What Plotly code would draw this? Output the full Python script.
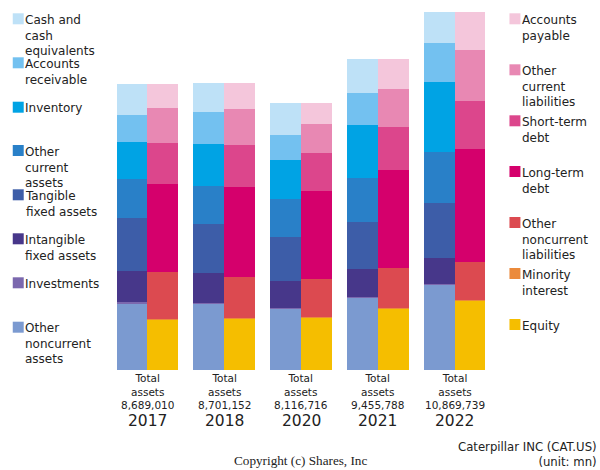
import numpy as np
import plotly.graph_objects as go

years = ["2017", "2018", "2020", "2021", "2022"]
total_labels = ["8,689,010", "8,701,152", "8,116,716", "9,455,788", "10,869,739"]

# Assets (bottom -> top)
other_noncurrent_assets = [2026400, 2004400, 1867500, 2202200, 2587600]
investments = [30400, 30400, 15200, 15200, 15200]
intangible_fixed_assets = [941800, 902000, 810800, 841400, 798800]
tangible_fixed_assets = [1610200, 1488100, 1336100, 1445900, 1661300]
other_current_assets = [1184900, 1154100, 1172100, 1318300, 1548900]
inventory = [1133200, 1284700, 1175200, 1609900, 2144200]
accounts_receivable = [820300, 962700, 759200, 972000, 1184500]
cash = [941800, 874700, 980800, 1051000, 929400]

# Liabilities & equity (bottom -> top)
equity = [1543400, 1554900, 1594200, 1877200, 2101700]
minority_interest = [15200, 15200, 15200, 15200, 15200]
other_noncurrent_liabilities = [1418800, 1254300, 1153900, 1196800, 1163200]
long_term_debt = [2673500, 2742400, 2681300, 2976800, 3422800]
short_term_debt = [1245600, 1275500, 1144800, 1324400, 1476000]
other_current_liabilities = [1063300, 1075100, 889700, 1136000, 1539800]
accounts_payable = [729100, 783500, 637700, 929500, 1151100]

assets = [
    ("Other<br>noncurrent<br>assets", other_noncurrent_assets, "#7b9ad0"),
    ("Investments", investments, "#7b68ae"),
    ("Intangible<br>fixed assets", intangible_fixed_assets, "#47378a"),
    ("Tangible<br>fixed assets", tangible_fixed_assets, "#3d5da8"),
    ("Other<br>current<br>assets", other_current_assets, "#2980c8"),
    ("Inventory", inventory, "#00a3e4"),
    ("Accounts<br>receivable", accounts_receivable, "#73c1f0"),
    ("Cash and<br>cash<br>equivalents", cash, "#bee1f7"),
]
liabs = [
    ("Equity", equity, "#f5be00"),
    ("Minority<br>interest", minority_interest, "#eb8a3b"),
    ("Other<br>noncurrent<br>liabilities", other_noncurrent_liabilities, "#dc4a50"),
    ("Long-term<br>debt", long_term_debt, "#d5006c"),
    ("Short-term<br>debt", short_term_debt, "#dc468c"),
    ("Other<br>current<br>liabilities", other_current_liabilities, "#e888b3"),
    ("Accounts<br>payable", accounts_payable, "#f4c6db"),
]

W, H = 600, 470
L, R, T, B = 108.5, 106.5, 12, 100
PW, PH = W - L - R, H - T - B


def px(x):
    return (x - L) / PW


def py(y):
    return 1 - (y - T) / PH


fig = go.Figure()
BW = 0.4
for group, off in ((assets, -BW), (liabs, 0.0)):
    base = np.zeros(len(years))
    for name, vals, col in group:
        v = np.array(vals, dtype=float)
        fig.add_trace(go.Bar(
            x=years, y=v, base=base.copy(), width=BW, offset=off,
            marker=dict(color=col, line=dict(width=0)),
            name=name, showlegend=False, hoverinfo="skip"))
        base += v

ymax = max(sum(np.array(v) for _, v, _ in assets))

ann = []
shapes = []
txt = "#222222"
# Left legend
left_tops = [321.7, 277.3, 233.3, 189.3, 145, 101.7, 57.3, 13.3]
for (name, _, col), top in zip(assets, left_tops):
    shapes.append(dict(type="rect", xref="paper", yref="paper",
                       x0=px(12), x1=px(23), y0=py(top + 11), y1=py(top),
                       fillcolor=col, line=dict(width=0)))
    ann.append(dict(xref="paper", yref="paper", x=px(22), y=py(top - 2.5),
                    xanchor="left", yanchor="top", align="left", text=name,
                    showarrow=False, font=dict(size=12, color=txt)))
# Right legend
right_tops = [319, 268, 217, 166, 115.3, 64.3, 13.3]
for (name, _, col), top in zip(liabs, right_tops):
    shapes.append(dict(type="rect", xref="paper", yref="paper",
                       x0=px(510), x1=px(521), y0=py(top + 11), y1=py(top),
                       fillcolor=col, line=dict(width=0)))
    ann.append(dict(xref="paper", yref="paper", x=px(521), y=py(top - 2.5),
                    xanchor="left", yanchor="top", align="left", text=name,
                    showarrow=False, font=dict(size=12, color=txt)))

# Category labels (positioned by category index)
for i, (yr, tl) in enumerate(zip(years, total_labels)):
    ann.append(dict(xref="x", yref="paper", x=i, y=py(370), xanchor="center",
                    yanchor="top", align="center", showarrow=False,
                    text="Total<br>assets<br>" + tl,
                    font=dict(size=10.5, color=txt)))
    ann.append(dict(xref="x", yref="paper", x=i, y=py(420.5), xanchor="center",
                    yanchor="middle", showarrow=False, text=yr,
                    font=dict(size=15.5, color=txt)))

ann.append(dict(xref="paper", yref="paper", x=px(600), y=py(454), xanchor="right",
                yanchor="middle", align="right", showarrow=False,
                text="Caterpillar INC (CAT.US)<br>(unit: mn)",
                font=dict(size=11.7, color=txt)))
ann.append(dict(xref="paper", yref="paper", x=px(300), y=py(460), xanchor="center",
                yanchor="middle", showarrow=False, text="Copyright (c) Shares, Inc",
                font=dict(size=13.2, color=txt, family="Liberation Serif, serif")))

fig.update_layout(
    width=W, height=H,
    margin=dict(l=L, r=R, t=T, b=B, pad=0),
    paper_bgcolor="white", plot_bgcolor="white",
    barmode="overlay", bargap=0,
    font=dict(family="DejaVu Sans, sans-serif", color=txt),
    xaxis=dict(type="category", range=[-0.5, 4.5], showticklabels=False,
               showgrid=False, zeroline=False, showline=False, ticks=""),
    yaxis=dict(range=[0, ymax], showticklabels=False, showgrid=False,
               zeroline=False, showline=False, ticks=""),
    annotations=ann, shapes=shapes, showlegend=False,
)

fig.write_html("out.html", config={"displayModeBar": False},
               post_script="document.body.style.margin='0';document.body.style.overflow='hidden';")
